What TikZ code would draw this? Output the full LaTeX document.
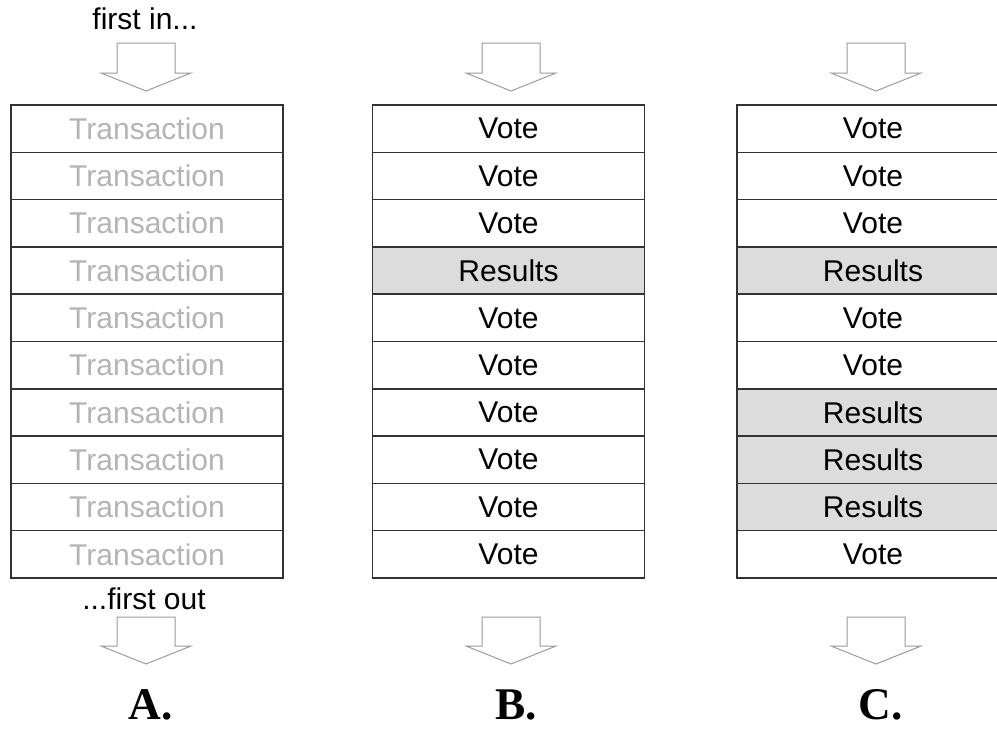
\documentclass[tikz,border=0pt]{standalone}
\usepackage{fontspec}
\setmainfont{Liberation Sans}
\newfontfamily\labelfont{Liberation Serif}
\definecolor{rowline}{HTML}{333333}
\definecolor{ghost}{HTML}{B4B4B4}
\definecolor{resfill}{HTML}{DCDCDC}
\definecolor{arrowline}{HTML}{9A9A9A}
\begin{document}
\begin{tikzpicture}[x=0.75pt,y=-0.75pt,
  row/.style={draw=rowline, line width=1.1pt, rectangle, inner sep=0pt, outer sep=0pt,
    minimum width=204pt, minimum height=35.47pt, font=\fontsize{22.5}{26}\selectfont},
  ghostrow/.style={row, text=ghost},
  resrow/.style={row, fill=resfill},
  caption/.style={font=\fontsize{22.5}{26}\selectfont, anchor=base, inner sep=0pt},
  biglabel/.style={font=\labelfont\bfseries\fontsize{34}{40}\selectfont, anchor=base, inner sep=0pt, text depth=0pt},
  blockarrow/.style={draw=arrowline, line width=0.75pt, fill=white, line join=miter}]
\clip (0,0) rectangle (997,729);
\fill[white] (0,0) rectangle (997,729);

% Column A
\foreach \i in {0,...,9} {
  \node[ghostrow] (a\i) at (147,{105+47.3*(\i+0.5)}) {Transaction};
}
% Column B
\foreach \i/\t in {0/Vote,1/Vote,2/Vote,4/Vote,5/Vote,6/Vote,7/Vote,8/Vote,9/Vote} {
  \node[row] (b\i) at (508.5,{105+47.3*(\i+0.5)}) {\t};
}
\node[resrow] (b3) at (508.5,{105+47.3*3.5}) {Results};
% Column C
\foreach \i in {0,1,2,4,5,9} {
  \node[row] (c\i) at (873,{105+47.3*(\i+0.5)}) {Vote};
}
\foreach \i in {3,6,7,8} {
  \node[resrow] (c\i) at (873,{105+47.3*(\i+0.5)}) {Results};
}

% captions
\node[caption] (firstin) at (145,29) {first in...};
\node[caption] (firstout) at (144,609) {...first out};

% block arrows
\foreach \n/\cx in {A/146,B/511,C/876} {
  \coordinate (top\n) at (\cx,43);
  \coordinate (bot\n) at (\cx,617);
  \draw[blockarrow] ([xshift=-21.75pt]top\n) -- ([xshift=21.75pt]top\n)
    -- ([xshift=21.75pt,yshift=-22.5pt]top\n) -- ([xshift=33.75pt,yshift=-22.5pt]top\n)
    -- ([yshift=-36pt]top\n) -- ([xshift=-33.75pt,yshift=-22.5pt]top\n)
    -- ([xshift=-21.75pt,yshift=-22.5pt]top\n) -- cycle;
  \draw[blockarrow] ([xshift=-21.75pt]bot\n) -- ([xshift=21.75pt]bot\n)
    -- ([xshift=21.75pt,yshift=-21.75pt]bot\n) -- ([xshift=33.75pt,yshift=-21.75pt]bot\n)
    -- ([yshift=-35.25pt]bot\n) -- ([xshift=-33.75pt,yshift=-21.75pt]bot\n)
    -- ([xshift=-21.75pt,yshift=-21.75pt]bot\n) -- cycle;
}

% labels
\node[biglabel] (labA) at (151,719) {A.};
\node[biglabel] (labB) at (516,719) {B.};
\node[biglabel] (labC) at (881,719) {C.};
\end{tikzpicture}
\end{document}
